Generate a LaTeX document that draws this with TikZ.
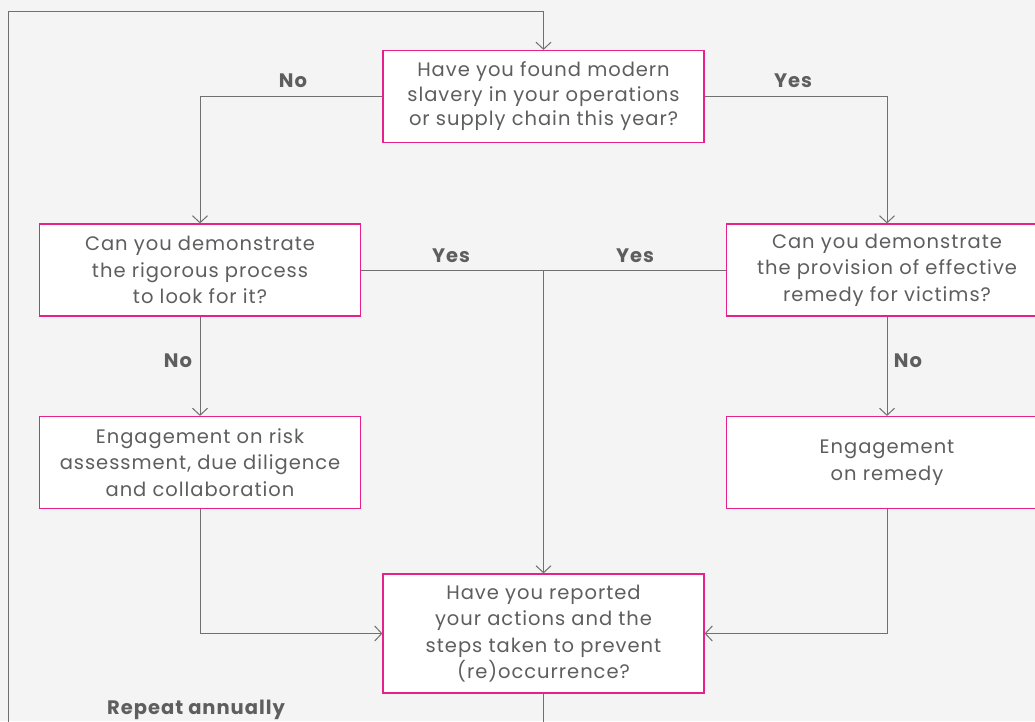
\documentclass[tikz,border=0pt]{standalone}
\usepackage{fontspec}
\setmainfont{Poppins}[LetterSpace=5]
\usetikzlibrary{arrows.meta}

\definecolor{bggray}{HTML}{F4F4F4}
\definecolor{txtgray}{HTML}{5E5E5E}
\definecolor{linegray}{HTML}{707070}
\definecolor{boxpink}{HTML}{E6218A}

\begin{document}
\begin{tikzpicture}[x=1pt, y=-1pt,
    box/.style={draw=boxpink, fill=white, line width=1.2pt, minimum width=321pt,
      minimum height=92pt, inner sep=0pt, align=center, text=txtgray,
      font=\fontsize{19.5}{26.5}\selectfont},
    lbl/.style={text=txtgray, font=\fontsize{19.5}{22}\selectfont\bfseries},
    link/.style={draw=linegray, line width=1pt},
    flow/.style={link, -{Straight Barb[length=7pt, width=15pt, line width=1pt]}}]

  \clip (0,0) rectangle (1035,721);
  \fill [bggray] (0,0) rectangle (1035,721);

  % decision boxes
  \node [box, font=\fontsize{19.5}{24.5}\selectfont] (found) at (543.5,96.5)
  {Have you found modern\\slavery in your operations\\or supply chain this year?};
  \node [box] (process) at (200,270)
  {Can you demonstrate\\the rigorous process\\to look for it?};
  \node [box] (remedy) at (887,270)
  {Can you demonstrate\\the provision of effective\\remedy for victims?};
  \node [box] (assess) at (200,462.5)
  {Engagement on risk\\assessment, due diligence\\and collaboration};
  \node [box] (engage) at (887,462.5)
  {Engagement\\on remedy};
  \node [box, minimum height=119pt] (report) at (543.5,633.5)
  {Have you reported\\your actions and the\\steps taken to prevent\\(re)occurrence?};

  \coordinate (join) at (543.5,270);
  \coordinate (loopbot) at (543.5,730);
  \coordinate (loopleft) at (8,730);
  \coordinate (looptop) at (8,11);

  % connectors
  \draw [flow] (found.west) -| (process.north);
  \draw [flow] (found.east) -| (remedy.north);
  \draw [link] (process.east) -- (remedy.west);
  \draw [flow] (join) -- (report.north);
  \draw [flow] (process.south) -- (assess.north);
  \draw [flow] (remedy.south) -- (engage.north);
  \draw [flow] (assess.south) |- (report.west);
  \draw [flow] (engage.south) |- (report.east);
  \draw [flow] (report.south) -- (loopbot) -- (loopleft) -- (looptop) -| (found.north);

  % labels
  \node [lbl] (nofound) at (293,81) {No};
  \node [lbl] (yesfound) at (793,81) {Yes};
  \node [lbl] (yesprocess) at (451,256) {Yes};
  \node [lbl] (yesremedy) at (635,256) {Yes};
  \node [lbl] (noprocess) at (178,361) {No};
  \node [lbl] (noremedy) at (908,361) {No};
  \node [lbl] (repeat) at (196,710) {Repeat annually};
\end{tikzpicture}
\end{document}
